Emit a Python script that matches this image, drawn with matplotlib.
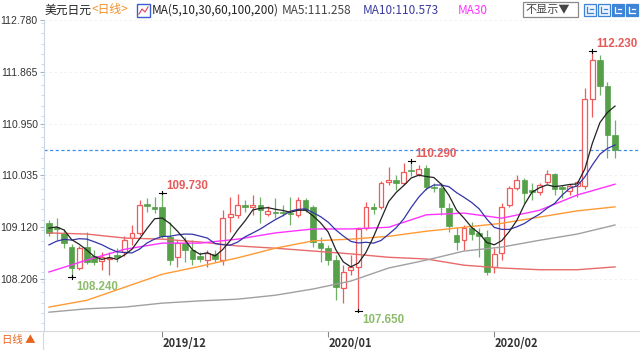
import matplotlib
matplotlib.use("Agg")
import matplotlib.pyplot as plt
from matplotlib.patches import Rectangle
from matplotlib.lines import Line2D
import numpy as np

plt.rcParams['font.family'] = ['Noto Sans CJK SC', 'DejaVu Sans']

# ---------------- data ----------------
opens = [109.19, 109.12, 109.02, 108.77, 108.40, 108.77, 108.61, 108.52, 108.56, 108.63,
         108.68, 108.93, 109.02, 109.53, 109.48, 109.48, 108.95, 108.59, 108.84, 108.72,
         108.61, 108.54, 108.65, 108.54, 109.30, 109.34, 109.51, 109.48, 109.51, 109.35,
         109.39, 109.39, 109.37, 109.34, 109.60, 109.48, 108.84, 108.75, 108.54, 108.05,
         108.36, 108.42, 109.11, 109.48, 109.48, 109.92, 109.95, 109.90, 110.13, 110.06,
         110.17, 109.83, 109.81, 109.46, 108.98, 108.89, 109.11, 109.02, 108.95, 108.42,
         108.66, 109.51, 109.81, 109.95, 109.78, 109.74, 109.92, 110.06, 109.83, 109.76,
         109.85, 109.85, 111.38, 112.07, 111.62, 110.75]
highs = [109.25, 109.28, 109.09, 108.82, 108.79, 109.04, 108.72, 108.68, 108.68, 108.75,
         108.96, 109.16, 109.60, 109.64, 109.66, 109.73, 109.21, 108.89, 108.95, 108.89,
         108.68, 108.72, 108.72, 109.42, 109.66, 109.70, 109.60, 109.69, 109.65, 109.49,
         109.64, 109.51, 109.65, 109.65, 109.64, 109.51, 108.95, 108.81, 108.63, 108.45,
         108.63, 109.12, 109.57, 109.55, 109.94, 110.18, 110.04, 110.25, 110.29, 110.22,
         110.22, 109.90, 109.90, 109.55, 109.12, 109.16, 109.21, 109.11, 109.07, 108.75,
         109.55, 109.85, 110.04, 109.99, 109.90, 109.90, 110.13, 110.08, 109.87, 109.88,
         109.94, 111.58, 112.23, 112.16, 111.68, 111.01]
lows = [108.96, 108.89, 108.75, 108.24, 108.36, 108.47, 108.45, 108.36, 108.28, 108.50,
        108.61, 108.81, 108.98, 109.39, 109.37, 108.93, 108.45, 108.42, 108.51, 108.45,
        108.51, 108.42, 108.51, 108.45, 109.03, 109.28, 109.39, 109.34, 109.19, 109.32,
        109.28, 109.32, 109.16, 109.30, 109.39, 108.77, 108.51, 108.45, 107.83, 107.78,
        108.28, 107.65, 109.07, 109.35, 109.44, 109.87, 109.78, 109.87, 110.02, 110.02,
        109.78, 109.74, 109.34, 109.03, 108.72, 108.72, 108.89, 108.59, 108.28, 108.31,
        108.54, 109.48, 109.78, 109.55, 109.60, 109.69, 109.88, 109.69, 109.64, 109.69,
        109.65, 109.79, 111.07, 111.46, 110.34, 110.34]
closes = [109.02, 109.09, 108.84, 108.40, 108.75, 108.51, 108.51, 108.59, 108.57, 108.59,
          108.89, 109.02, 109.51, 109.49, 109.44, 108.96, 108.54, 108.84, 108.72, 108.56,
          108.56, 108.66, 108.56, 109.28, 109.35, 109.51, 109.48, 109.51, 109.42, 109.41,
          109.37, 109.37, 109.35, 109.60, 109.42, 108.86, 108.75, 108.54, 108.06, 108.33,
          108.42, 109.09, 109.48, 109.44, 109.90, 109.95, 109.90, 110.09, 110.11, 110.15,
          109.83, 109.81, 109.48, 109.14, 108.86, 109.11, 109.00, 108.96, 108.33, 108.65,
          109.48, 109.81, 109.95, 109.72, 109.74, 109.87, 110.06, 109.80, 109.80, 109.85,
          109.92, 111.38, 112.07, 111.62, 110.75, 110.48]
# closes of the 9 sessions before the visible window (for MA5 / MA10)
prior_closes = [108.45, 108.50, 108.54, 108.50, 108.58, 108.98, 109.11, 109.25, 109.16]

ma_idx = [0, 5, 10, 15, 20, 25, 30, 35, 40, 45, 50, 55, 60, 65, 70, 75]
ma30 = [108.33, 108.54, 108.73, 108.84, 108.84, 108.91, 109.02, 109.09, 109.09, 109.12,
        109.34, 109.37, 109.28, 109.42, 109.69, 109.88]
ma60 = [107.71, 107.83, 108.06, 108.29, 108.43, 108.58, 108.75, 108.88, 108.91, 108.96,
        109.05, 109.12, 109.19, 109.30, 109.41, 109.48]
ma100 = [107.62, 107.68, 107.71, 107.78, 107.82, 107.85, 107.92, 108.03, 108.17, 108.40,
         108.54, 108.70, 108.77, 108.89, 109.00, 109.16]
ma200 = [109.02, 109.00, 108.93, 108.91, 108.86, 108.79, 108.75, 108.70, 108.65, 108.59,
         108.56, 108.45, 108.40, 108.37, 108.37, 108.42]

month_pos = [15, 37, 59]
month_labels = ['2019/12', '2020/01', '2020/02']
y_ticks = [108.206, 109.120, 110.035, 110.950, 111.865, 112.780]

high_marks = [15, 48, 72]
low_marks = [3, 41]

title_cn = '美元日元'
period_cn = '<日线>'
ma_def = 'MA(5,10,30,60,100,200)'
ma5_text = 'MA5:111.258'
ma10_text = 'MA10:110.573'
ma30_text = 'MA30'

# ---------------- style ----------------
RED = '#ef5b5b'
GREEN = '#56a04a'
GREEN_W = '#6fb066'
C_MA5 = '#222222'
C_MA10 = '#3434a8'
C_MA30 = '#ff33ff'
C_MA60 = '#ff9a33'
C_MA100 = '#a0a0a0'
C_MA200 = '#e86a6a'
NUMF = ['Liberation Sans', 'DejaVu Sans']

W, H = 640, 350
fig = plt.figure(figsize=(6.4, 3.5), dpi=100)
fig.patch.set_facecolor('white')

ax_left, ax_right, ax_top, ax_bot = 44, 640, 20, 331
ax = fig.add_axes([ax_left / W, 1 - ax_bot / H, (ax_right - ax_left) / W, (ax_bot - ax_top) / H])
ax.set_facecolor('white')

n = len(closes)
x = np.arange(n)
ax.set_xlim(-0.66, 78.31)
ax.set_ylim(107.288, 112.78)

# grid
for yt in y_ticks:
    ax.axhline(yt, color='#efefef', lw=0.6, ls=(0, (3, 3)), zorder=0)

# candles
bw = 0.64
for i in range(n):
    o, h, l, c = opens[i], highs[i], lows[i], closes[i]
    up = c >= o
    if up:
        top, bot = c, o
        ax.plot([i, i], [top, h], color=RED, lw=0.9, zorder=2, solid_capstyle='butt')
        ax.plot([i, i], [l, bot], color=RED, lw=0.9, zorder=2, solid_capstyle='butt')
        hgt = max(top - bot, 0.012)
        ax.add_patch(Rectangle((i - bw / 2, bot), bw, hgt, facecolor='white',
                               edgecolor=RED, lw=0.9, zorder=3))
    else:
        top, bot = o, c
        ax.plot([i, i], [l, h], color=GREEN_W, lw=0.9, zorder=2, solid_capstyle='butt')
        hgt = max(top - bot, 0.012)
        ax.add_patch(Rectangle((i - bw / 2 - 0.05, bot), bw + 0.1, hgt, facecolor=GREEN,
                               edgecolor=GREEN, lw=0.5, zorder=3))

# moving averages
full = np.array(prior_closes + closes)
k = len(prior_closes)
ma5 = np.array([full[k + i - 4:k + i + 1].mean() for i in range(n)])
ma10 = np.array([full[k + i - 9:k + i + 1].mean() for i in range(n)])

ax.plot(ma_idx, ma200, color=C_MA200, lw=1.0, zorder=4)
ax.plot(ma_idx, ma100, color=C_MA100, lw=1.0, zorder=4)
ax.plot(ma_idx, ma60, color=C_MA60, lw=1.0, zorder=4)
ax.plot(ma_idx, ma30, color=C_MA30, lw=1.0, zorder=4)
ax.plot(x, ma10, color=C_MA10, lw=0.9, zorder=5)
ax.plot(x, ma5, color=C_MA5, lw=0.9, zorder=6)

# current price line
ax.axhline(closes[-1], color='#3d8fe8', lw=0.9, ls=(0, (2.5, 2)), zorder=1)

# extreme markers
def mark(i, v, col, dy):
    ax.plot([i - 0.45, i + 0.45], [v, v], color='black', lw=0.8, zorder=7)
    ax.plot([i, i], [v - 0.03, v + 0.03], color='black', lw=0.8, zorder=7)
    ax.annotate(f"{v:.3f}", (i, v), xytext=(3, dy), textcoords='offset points',
                ha='left', va='center', color=col, fontsize=8.3, fontweight='bold',
                family=NUMF, zorder=8)

for i in high_marks:
    mark(i, highs[i], '#e65a5a', 5)
for i in low_marks:
    mark(i, lows[i], '#8cbc6a', -7)

# axes styling
for s in ['top', 'right']:
    ax.spines[s].set_visible(False)
ax.spines['left'].set_color('#c9d6e6')
ax.spines['bottom'].set_color('#d8d8d8')
ax.set_yticks(y_ticks)
ax.set_yticklabels([f"{v:.3f}" for v in y_ticks])
ax.yaxis.set_minor_locator(matplotlib.ticker.MultipleLocator(0.183))
ax.tick_params(axis='y', which='major', length=3, color='#9fb6d0', labelsize=7.5,
               labelcolor='#333333', pad=1.5)
ax.tick_params(axis='y', which='minor', length=2, color='#c9d6e6')
ax.set_xticks(month_pos)
ax.set_xticklabels(month_labels)
ax.tick_params(axis='x', length=4, color='#888888', labelsize=8, labelcolor='#333333', pad=0)
for lbl in ax.get_xticklabels():
    lbl.set_ha('left')
    lbl.set_fontweight('bold')
for lbl in ax.get_yticklabels():
    lbl.set_family(NUMF)

# bottom separator lines
fig.add_artist(Line2D([0, ax_left / W], [1 - ax_bot / H, 1 - ax_bot / H], color='#d8d8d8', lw=0.8))
fig.add_artist(Line2D([43 / W, 43 / W], [0, 1 - ax_bot / H], color='#d8d8d8', lw=0.8))
fig.text(2 / W, 1 - 340 / H, '日线 ▲', color='#e8641e', fontsize=7.5, ha='left', va='center')

# header
def ftxt(px, py, s, **kw):
    fig.text(px / W, 1 - py / H, s, va='center', ha='left', **kw)

ftxt(45, 10, title_cn, color='#222222', fontsize=8.5)
ftxt(91, 10, period_cn, color='#f0902a', fontsize=8.5)
fig.add_artist(Rectangle((137 / W, 1 - 17 / H), 13 / W, 13 / H, facecolor='white',
                         edgecolor='#3a5fcd', lw=1.0))
fig.add_artist(Line2D([139 / W, 142 / W, 145 / W, 148 / W],
                      [1 - 14 / H, 1 - 9 / H, 1 - 12 / H, 1 - 7 / H], color='#e0405a', lw=0.8))
ftxt(152, 10, ma_def, color='#222222', fontsize=8.5)
ftxt(282, 10, ma5_text, color='#444444', fontsize=8.5)
ftxt(363, 10, ma10_text, color='#3a3aa0', fontsize=8.5)
ftxt(458, 10, ma30_text, color='#ff33ff', fontsize=8.5)

fig.add_artist(Rectangle((523 / W, 1 - 17 / H), 55 / W, 15 / H, facecolor='white',
                         edgecolor='#8a8a8a', lw=0.9))
ftxt(526, 10, '不显示▼', color='#444444', fontsize=8)
for j, filled in enumerate([False, False, True, True]):
    x0 = 584 + j * 14
    fig.add_artist(Rectangle((x0 / W, 1 - 16 / H), 12 / W, 12 / H,
                             facecolor='#3d84d6' if filled else '#eef4fc',
                             edgecolor='#3d84d6', lw=0.9))
    gc = 'white' if filled else '#3d84d6'
    fig.add_artist(Line2D([(x0 + 3) / W, (x0 + 3) / W, (x0 + 9) / W],
                          [1 - 7 / H, 1 - 13 / H, 1 - 13 / H], color=gc, lw=0.9))
    fig.add_artist(Line2D([(x0 + 6) / W, (x0 + 9) / W],
                          [1 - 9 / H, 1 - 9 / H], color=gc, lw=0.9))

fig.savefig('out.png', dpi=100)
